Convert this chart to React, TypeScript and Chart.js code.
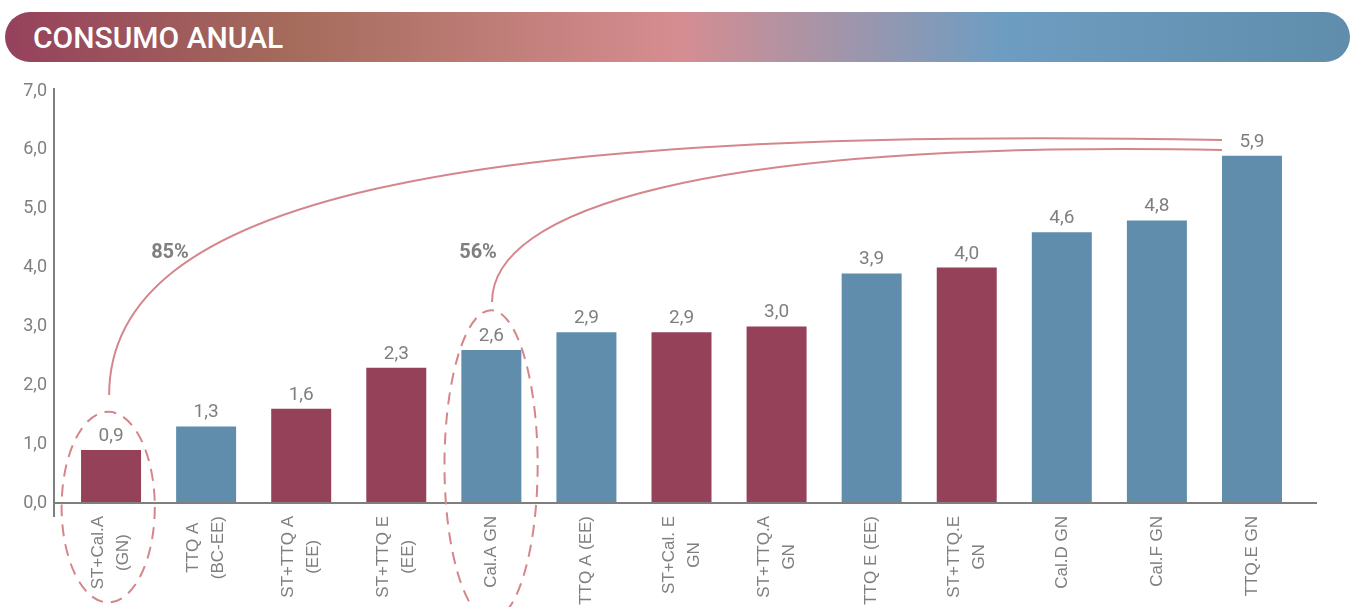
import React, { useEffect, useRef } from "react";
import { Chart, registerables } from "chart.js";

Chart.register(...registerables);

// Category labels (one entry per line)
const categories: string[][] = [
  ["ST+Cal.A", "(GN)"],
  ["TTQ A", "(BC-EE)"],
  ["ST+TTQ A", "(EE)"],
  ["ST+TTQ E", "(EE)"],
  ["Cal.A GN"],
  ["TTQ A (EE)"],
  ["ST+Cal. E", "GN"],
  ["ST+TTQ.A", "GN"],
  ["TTQ E (EE)"],
  ["ST+TTQ.E", "GN"],
  ["Cal.D GN"],
  ["Cal.F GN"],
  ["TTQ.E GN"],
];

// Annual consumption per system
const consumo: number[] = [0.9, 1.3, 1.6, 2.3, 2.6, 2.9, 2.9, 3.0, 3.9, 4.0, 4.6, 4.8, 5.9];

// Colour group of each bar: "st" = solar-assisted, "base" = conventional
const grupo: string[] = ["st", "base", "st", "st", "base", "base", "st", "st", "base", "st", "base", "base", "base"];

// Y axis ticks
const yTicks: number[] = [0, 1, 2, 3, 4, 5, 6, 7];

// Savings call-outs
const ahorroLabels: string[] = ["85%", "56%"];

const COLORS: Record<string, string> = { st: "#96415a", base: "#5f8dab" };
const GRAY = "#7f7f7f";
const ACCENT = "#d4868b";

// Annotation geometry in data units (x = category index, y = value)
const curves = [
  { p0: [-0.02, 1.835], c1: [-0.02, 5.15], c2: [3.56, 6.42], p3: [11.685, 6.167] },
  { p0: [4.007, 3.415], c1: [4.007, 4.98], c2: [6.2, 6.167], p3: [11.685, 5.998] },
];
const ellipses = [
  { cx: -0.03, cy: -0.07, rx: 0.49, ry: 1.62 },
  { cx: 3.997, cy: 0.646, rx: 0.49, ry: 2.63 },
];
const labelPos = [
  [0.62, 4.25],
  [3.86, 4.25],
];

const fmt = (v: number) => v.toFixed(1).replace(".", ",");

const overlayPlugin = {
  id: "overlay",
  afterDatasetsDraw(chart: any) {
    const { ctx, chartArea } = chart;
    const xs = chart.scales.x;
    const ys = chart.scales.y;
    const px = (v: number) => xs.getPixelForValue(v);
    const py = (v: number) => ys.getPixelForValue(v);
    const zeroY = py(0);

    ctx.save();
    // axis lines
    ctx.strokeStyle = GRAY;
    ctx.lineWidth = 2;
    ctx.beginPath();
    ctx.moveTo(chartArea.left, py(7) - 3);
    ctx.lineTo(chartArea.left, zeroY + 14);
    ctx.moveTo(chartArea.left, zeroY);
    ctx.lineTo(chartArea.right, zeroY);
    ctx.stroke();

    // value labels
    const meta = chart.getDatasetMeta(0);
    ctx.fillStyle = GRAY;
    ctx.font = "19px Roboto";
    ctx.textAlign = "center";
    ctx.textBaseline = "alphabetic";
    meta.data.forEach((bar: any, i: number) => {
      ctx.fillText(fmt(consumo[i]), bar.x, bar.y - 9);
    });

    // category labels, rotated, block right-aligned at the axis, lines centred
    ctx.font = '17px "Liberation Sans", Arial, sans-serif';
    const lh = 25;
    categories.forEach((lines, i) => {
      const cx = px(i);
      const w = Math.max(...lines.map((l) => ctx.measureText(l).width));
      lines.forEach((line, j) => {
        const lx = cx + (j - (lines.length - 1) / 2) * lh;
        ctx.save();
        ctx.translate(lx, zeroY + 13);
        ctx.rotate(-Math.PI / 2);
        ctx.textAlign = "center";
        ctx.textBaseline = "middle";
        ctx.fillText(line, -w / 2, 0);
        ctx.restore();
      });
    });

    // connecting curves
    ctx.strokeStyle = ACCENT;
    ctx.lineWidth = 2;
    curves.forEach((c) => {
      ctx.beginPath();
      ctx.moveTo(px(c.p0[0]), py(c.p0[1]));
      ctx.bezierCurveTo(px(c.c1[0]), py(c.c1[1]), px(c.c2[0]), py(c.c2[1]), px(c.p3[0]), py(c.p3[1]));
      ctx.stroke();
    });

    // dashed ellipses
    ctx.setLineDash([12, 8]);
    ellipses.forEach((e) => {
      const cx = px(e.cx);
      const cy = py(e.cy);
      const rx = Math.abs(px(e.cx + e.rx) - cx);
      const ry = Math.abs(py(e.cy + e.ry) - cy);
      ctx.beginPath();
      ctx.ellipse(cx, cy, rx, ry, 0, 0, Math.PI * 2);
      ctx.stroke();
    });
    ctx.setLineDash([]);

    // percentage call-outs
    ctx.fillStyle = GRAY;
    ctx.font = "bold 20px Roboto";
    ctx.textAlign = "center";
    ctx.textBaseline = "middle";
    ahorroLabels.forEach((t, i) => {
      ctx.fillText(t, px(labelPos[i][0]), py(labelPos[i][1]));
    });
    ctx.restore();
  },
};

export default function App() {
  const ref = useRef<HTMLCanvasElement | null>(null);

  useEffect(() => {
    if (!ref.current) return;
    const chart = new Chart(ref.current, {
      type: "bar",
      data: {
        datasets: [
          {
            data: consumo.map((v, i) => ({ x: i, y: v })),
            backgroundColor: grupo.map((g) => COLORS[g]),
            borderWidth: 0,
            categoryPercentage: 1,
            barPercentage: 0.631,
          },
        ],
      },
      options: {
        animation: false,
        responsive: false,
        maintainAspectRatio: false,
        layout: { padding: { left: 0, right: 35, top: 91, bottom: 104 } },
        plugins: { legend: { display: false }, tooltip: { enabled: false } },
        scales: {
          x: {
            type: "linear",
            min: -0.6,
            max: 12.684,
            offset: false,
            display: false,
            afterBuildTicks: (s: any) => {
              s.ticks = categories.map((_, i) => ({ value: i }));
            },
          },
          y: {
            min: 0,
            max: 7,
            grid: { display: false, drawTicks: false },
            border: { display: false },
            afterBuildTicks: (s: any) => {
              s.ticks = yTicks.map((v) => ({ value: v }));
            },
            afterFit: (s: any) => {
              s.width = 54;
            },
            ticks: {
              padding: 7,
              color: GRAY,
              font: { family: "Roboto", size: 18 },
              callback: (v: any) => fmt(Number(v)),
            },
          },
        },
      },
      plugins: [overlayPlugin],
    });
    return () => chart.destroy();
  }, []);

  return (
    <div style={{ position: "absolute", left: 0, top: 0, width: 1352, height: 607, background: "#fff" }}>
      <div
        style={{
          position: "absolute",
          left: 5,
          top: 12,
          width: 1345,
          height: 50,
          borderRadius: 25,
          background:
            "linear-gradient(to right, #96415d 0%, #a46b5b 21%, #d68d91 50%, #6e9dc2 74%, #5f8dab 100%)",
          display: "flex",
          alignItems: "center",
        }}
      >
        <span
          style={{
            marginLeft: 28,
            color: "#fff",
            fontFamily: "Roboto, sans-serif",
            fontWeight: 500,
            fontSize: 30,
            letterSpacing: 0,
          }}
        >
          CONSUMO ANUAL
        </span>
      </div>
      <canvas ref={ref} width={1352} height={607} style={{ position: "absolute", left: 0, top: 0 }} />
    </div>
  );
}
